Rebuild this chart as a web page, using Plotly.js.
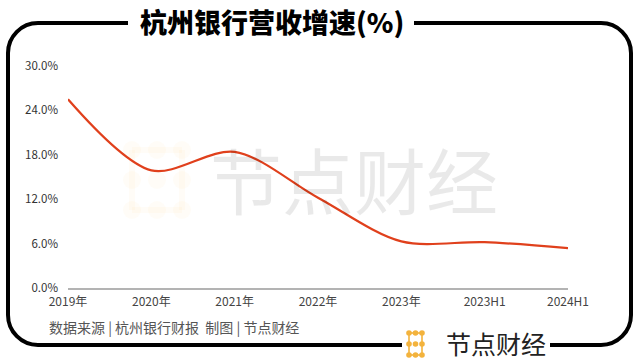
<!DOCTYPE html>
<html>
<head>
<meta charset="utf-8">
<script src="https://cdn.plot.ly/plotly-3.0.1.min.js"></script>
<style>html,body{margin:0;padding:0;background:#fff;}#chart{width:640px;height:364px;}</style>
</head>
<body>
<div id="chart"></div>
<script>
// ---- data ----
const categories = ['2019年', '2020年', '2021年', '2022年', '2023年', '2023H1', '2024H1'];
const revenueGrowth = [25.5, 15.9, 18.4, 12.2, 6.3, 6.2, 5.4];
const yTickValues = [0, 6, 12, 18, 24, 30];
const yTickLabels = ['0.0%', '6.0%', '12.0%', '18.0%', '24.0%', '30.0%'];
const titleText = '杭州银行营收增速(%)';
const sourceText = '数据来源 | 杭州银行财报&nbsp;&nbsp;制图 | 节点财经';
const brandText = '节点财经';

// ---- layout helpers (pixel -> paper) ----
const L = 68, R = 568, T = 66, B = 288;
const px = x => (x - L) / (R - L);
const py = y => (B - y) / (B - T);
const P = (x, y) => px(x).toFixed(5) + ',' + py(y).toFixed(5);
const k = 0.552;
const rad = 30;
const fl = 8, fr = 631, ft = 23, fb = 345;

const leftFrame = 'M' + P(128, ft) + ' L' + P(fl + rad, ft) +
  ' C' + P(fl + rad - rad * k, ft) + ' ' + P(fl, ft + rad - rad * k) + ' ' + P(fl, ft + rad) +
  ' L' + P(fl, fb - rad) +
  ' C' + P(fl, fb - rad + rad * k) + ' ' + P(fl + rad - rad * k, fb) + ' ' + P(fl + rad, fb) +
  ' L' + P(402, fb);
const rightFrame = 'M' + P(550, fb) + ' L' + P(fr - rad, fb) +
  ' C' + P(fr - rad + rad * k, fb) + ' ' + P(fr, fb - rad + rad * k) + ' ' + P(fr, fb - rad) +
  ' L' + P(fr, ft + rad) +
  ' C' + P(fr, ft + rad - rad * k) + ' ' + P(fr - rad + rad * k, ft) + ' ' + P(fr - rad, ft) +
  ' L' + P(414, ft);

const shapes = [
  {type: 'path', xref: 'paper', yref: 'paper', path: leftFrame, line: {color: '#000', width: 4}},
  {type: 'path', xref: 'paper', yref: 'paper', path: rightFrame, line: {color: '#000', width: 4}}
];

// logo icon (grid of dots)
function iconShapes(x0, y0, w, h, r, color, lw, layer) {
  const xs = [x0, x0 + w / 2, x0 + w];
  const ys = [y0, y0 + h / 2, y0 + h];
  const out = [];
  const segs = [
    [xs[0], ys[0], xs[2], ys[0]], [xs[0], ys[2], xs[2], ys[2]],
    [xs[0], ys[0], xs[0], ys[2]], [xs[2], ys[0], xs[2], ys[2]]
  ];
  segs.forEach(s => out.push({type: 'line', xref: 'paper', yref: 'paper', layer: layer,
    x0: px(s[0]), y0: py(s[1]), x1: px(s[2]), y1: py(s[3]), line: {color: color, width: lw}}));
  xs.forEach(x => ys.forEach(y => out.push({type: 'circle', xref: 'paper', yref: 'paper', layer: layer,
    x0: px(x - r), x1: px(x + r), y0: py(y + r), y1: py(y - r),
    fillcolor: color, line: {width: 0}})));
  return out;
}
shapes.push(...iconShapes(409, 333, 13, 22, 2.8, '#f3b33d', 1.6, 'above'));
shapes.push(...iconShapes(132, 150, 50, 60, 9, 'rgba(245,180,60,0.045)', 6, 'below'));

const annotations = [
  {xref: 'paper', yref: 'paper', x: px(272), y: py(21), xanchor: 'center', yanchor: 'middle',
   text: titleText, showarrow: false, bgcolor: '#fff',
   font: {family: 'Noto Sans CJK SC', size: 27, color: '#000', weight: 900}},
  {xref: 'paper', yref: 'paper', x: px(354), y: py(177), xanchor: 'center', yanchor: 'middle',
   text: brandText, showarrow: false,
   font: {family: 'Noto Sans CJK SC', size: 72, color: 'rgba(0,0,0,0.085)'}},
  {xref: 'paper', yref: 'paper', x: px(47), y: py(327), xanchor: 'left', yanchor: 'middle',
   text: sourceText, showarrow: false,
   font: {family: 'Noto Sans CJK SC', size: 14, color: '#555'}},
  {xref: 'paper', yref: 'paper', x: px(496), y: py(343), xanchor: 'center', yanchor: 'middle',
   text: brandText, showarrow: false,
   font: {family: 'Noto Sans CJK SC', size: 25, color: '#222'}}
];

const trace = {
  type: 'scatter', mode: 'lines',
  x: categories, y: revenueGrowth,
  line: {color: '#e0401c', width: 2.2, shape: 'spline', smoothing: 0.9},
  hoverinfo: 'skip'
};

const layout = {
  width: 640, height: 364,
  margin: {l: L, r: 640 - R, t: T, b: 364 - B, pad: 0},
  paper_bgcolor: '#fff', plot_bgcolor: 'rgba(0,0,0,0)',
  showlegend: false,
  font: {family: 'Noto Sans CJK SC', color: '#333'},
  xaxis: {
    type: 'category', categoryorder: 'array', categoryarray: categories,
    range: [0, categories.length - 1],
    showgrid: false, zeroline: false, showline: true, linecolor: '#b3b3b3', linewidth: 2,
    ticks: '', ticklabelstandoff: 2,
    tickfont: {family: 'Noto Sans CJK SC', size: 12, color: '#444'},
    fixedrange: true
  },
  yaxis: {
    range: [0, 30], tickmode: 'array', tickvals: yTickValues, ticktext: yTickLabels,
    showgrid: false, zeroline: false, showline: false, ticks: '', ticklabelstandoff: 9,
    tickfont: {family: 'Noto Sans CJK SC', size: 11.5, color: '#333'},
    fixedrange: true
  },
  shapes: shapes,
  annotations: annotations
};

Plotly.newPlot('chart', [trace], layout, {staticPlot: true, displayModeBar: false});
</script>
</body>
</html>
